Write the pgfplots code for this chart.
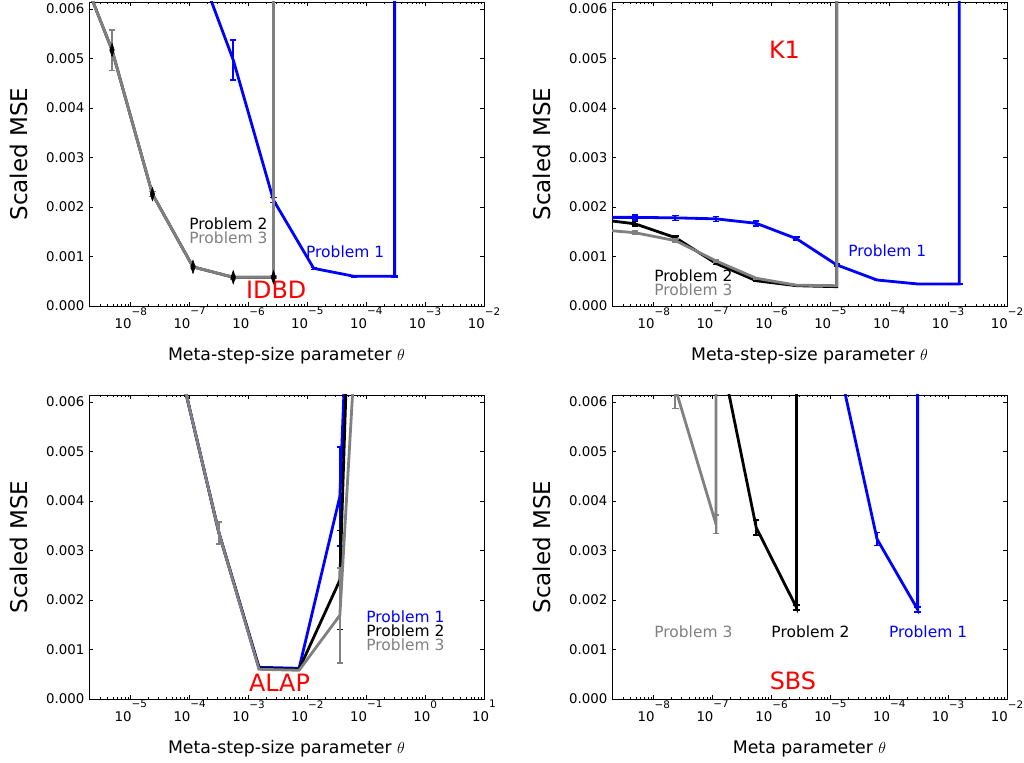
\documentclass[border=0pt]{standalone}
\usepackage{pgfplots}
\pgfplotsset{compat=1.18}
\usepackage{fontspec}
\setmainfont{DejaVu Sans}
\definecolor{mgray}{RGB}{128,128,128}
\definecolor{mblue}{RGB}{0,0,255}
\newcommand\mtl[1]{10\raisebox{10pt}{\fontsize{7.8}{8}\selectfont −#1}}
\newcommand\mtp[1]{10\raisebox{10pt}{\fontsize{7.8}{8}\selectfont #1}}
\pgfplotsset{
  panel/.style={
    scale only axis, width=296.25pt, height=228pt,
    ymin=0, ymax=0.00614,
    ytick={0,0.001,0.002,0.003,0.004,0.005,0.006},
    yticklabels={0.000,0.001,0.002,0.003,0.004,0.005,0.006},
    scaled y ticks=false,
    axis line style={line width=0.7pt},
    every tick/.style={black, line width=0.6pt},
    major tick length=3.2pt, minor tick length=1.8pt,
    tick align=inside,
    tick label style={font=\fontsize{10}{12}\selectfont},
    xticklabel style={yshift=2.5pt},
    every axis y label/.style={at={(axis description cs:-0.1785,0.5)}, rotate=90, anchor=center, font=\fontsize{17.25}{20}\selectfont},
    every axis x label/.style={at={(axis description cs:0.5,-0.163)}, anchor=center, font=\fontsize{13}{15}\selectfont},
    ylabel={Scaled MSE},
  },
  topx/.style={xmin=1.95e-9, xmax=1e-2,
    xtick={1e-8,1e-7,1e-6,1e-5,1e-4,1e-3,1e-2},
    xticklabels={\mtl{8},\mtl{7},\mtl{6},\mtl{5},\mtl{4},\mtl{3},\mtl{2}},
    minor xtick={2e-9,3e-9,4e-9,5e-9,6e-9,7e-9,8e-9,9e-9,
      2e-8,3e-8,4e-8,5e-8,6e-8,7e-8,8e-8,9e-8,
      2e-7,3e-7,4e-7,5e-7,6e-7,7e-7,8e-7,9e-7,
      2e-6,3e-6,4e-6,5e-6,6e-6,7e-6,8e-6,9e-6,
      2e-5,3e-5,4e-5,5e-5,6e-5,7e-5,8e-5,9e-5,
      2e-4,3e-4,4e-4,5e-4,6e-4,7e-4,8e-4,9e-4,
      2e-3,3e-3,4e-3,5e-3,6e-3,7e-3,8e-3,9e-3}},
  ln/.style={line width=2.1pt},
  eb/.style={error bars/.cd, y dir=both, y explicit, error bar style={line width=1.6pt}, error mark options={rotate=90, line width=1.2pt, mark size=2.4pt}},
}
\tikzset{plab/.style={font=\fontsize{11.6}{13}\selectfont, inner sep=0pt},
         mlab/.style={font=\fontsize{17.9}{20}\selectfont, inner sep=0pt, text=red}}
\begin{document}
\begin{tikzpicture}
\useasboundingbox (0,0) rectangle (768pt,572.25pt);
% ---------------- IDBD ----------------
\begin{semilogxaxis}[panel, topx, at={(66.75pt,342.75pt)}, anchor=south west,
  xlabel={Meta-step-size parameter $\theta$}]
\addplot[mblue, ln, eb] coordinates {
 (1.14e-7,7.15e-3) (5.5e-7,4.97e-3) +- (0,0.40e-3) (2.65e-6,2.14e-3) +- (0,0.05e-3)
 (1.28e-5,0.76e-3) +- (0,0.02e-3) (6.2e-5,0.60e-3) +- (0,0.01e-3) (3.03e-4,0.60e-3) +- (0,0.01e-3)
 (3.03e-4,0.05)};
\addplot[black, ln] coordinates {
 (9.8e-10,7.25e-3) (4.8e-9,5.17e-3) (2.33e-8,2.26e-3) (1.14e-7,0.79e-3) (5.5e-7,0.58e-3) (2.65e-6,0.58e-3) (2.65e-6,0.05)};
\addplot[mgray, ln, eb] coordinates {
 (9.8e-10,7.25e-3) (4.8e-9,5.17e-3) +- (0,0.41e-3) (2.33e-8,2.26e-3) +- (0,0.05e-3) (1.14e-7,0.79e-3) +- (0,0.03e-3)
 (5.5e-7,0.58e-3) +- (0,0.03e-3) (2.65e-6,0.58e-3) +- (0,0.02e-3) (2.65e-6,0.05)};
\addplot[only marks, black, mark=diamond*, mark size=5pt, mark options={xscale=0.45}] coordinates {
 (4.8e-9,5.17e-3) (2.33e-8,2.26e-3) (1.14e-7,0.79e-3) (5.5e-7,0.58e-3) (2.65e-6,0.58e-3)};
\node[plab, text=black] at (axis cs:4.55e-7,1.66e-3) {Problem 2};
\node[plab, text=mgray] at (axis cs:4.55e-7,1.37e-3) {Problem 3};
\node[plab, text=mblue] at (axis cs:4.38e-5,1.10e-3) {Problem 1};
\node[mlab] at (axis cs:2.95e-6,0.32e-3) {IDBD};
\end{semilogxaxis}
% ---------------- K1 ----------------
\begin{semilogxaxis}[panel, topx, at={(459pt,342.75pt)}, anchor=south west,
  xlabel={Meta-step-size parameter $\theta$}]
\addplot[mblue, ln, eb] coordinates {
 (9.8e-10,1.79e-3) (4.8e-9,1.79e-3) +- (0,0.05e-3) (2.33e-8,1.78e-3) +- (0,0.05e-3) (1.14e-7,1.76e-3) +- (0,0.05e-3)
 (5.5e-7,1.67e-3) +- (0,0.05e-3) (2.65e-6,1.36e-3) +- (0,0.03e-3) (1.28e-5,0.83e-3) +- (0,0.02e-3)
 (6.2e-5,0.525e-3) +- (0,0.01e-3) (3.03e-4,0.445e-3) +- (0,0.01e-3) (1.55e-3,0.445e-3) +- (0,0.01e-3) (1.55e-3,0.05)};
\addplot[black, ln, eb] coordinates {
 (9.8e-10,1.76e-3) (4.8e-9,1.66e-3) +- (0,0.05e-3) (2.33e-8,1.38e-3) +- (0,0.03e-3) (1.14e-7,0.86e-3) +- (0,0.02e-3)
 (5.5e-7,0.51e-3) +- (0,0.01e-3) (2.65e-6,0.41e-3) +- (0,0.01e-3) (1.28e-5,0.39e-3) (1.28e-5,0.05)};
\addplot[mgray, ln, eb] coordinates {
 (9.8e-10,1.55e-3) (4.8e-9,1.48e-3) +- (0,0.04e-3) (2.33e-8,1.32e-3) +- (0,0.03e-3) (1.14e-7,0.91e-3) +- (0,0.02e-3)
 (5.5e-7,0.56e-3) +- (0,0.01e-3) (2.65e-6,0.42e-3) +- (0,0.01e-3) (1.28e-5,0.41e-3) (1.28e-5,0.05)};
\node[plab, text=black] at (axis cs:4.7e-8,0.606e-3) {Problem 2};
\node[plab, text=mgray] at (axis cs:4.7e-8,0.32e-3) {Problem 3};
\node[plab, text=mblue] at (axis cs:9.25e-5,1.11e-3) {Problem 1};
\node[mlab] at (axis cs:1.66e-6,5.18e-3) {K1};
\end{semilogxaxis}
% ---------------- ALAP ----------------
\begin{semilogxaxis}[panel, at={(66.75pt,48pt)}, anchor=south west,
  xmin=1.95e-6, xmax=10,
  xtick={1e-5,1e-4,1e-3,1e-2,1e-1,1,10},
  xticklabels={\mtl{5},\mtl{4},\mtl{3},\mtl{2},\mtl{1},\mtp{0},\mtp{1}},
  minor xtick={2e-6,3e-6,4e-6,5e-6,6e-6,7e-6,8e-6,9e-6,
      2e-5,3e-5,4e-5,5e-5,6e-5,7e-5,8e-5,9e-5,
      2e-4,3e-4,4e-4,5e-4,6e-4,7e-4,8e-4,9e-4,
      2e-3,3e-3,4e-3,5e-3,6e-3,7e-3,8e-3,9e-3,
      2e-2,3e-2,4e-2,5e-2,6e-2,7e-2,8e-2,9e-2,
      0.2,0.3,0.4,0.5,0.6,0.7,0.8,0.9,
      2,3,4,5,6,7,8,9},
  xlabel={Meta-step-size parameter $\theta$}]
\addplot[mblue, ln, eb] coordinates {
 (6.5e-5,6.8e-3) (3.15e-4,3.35e-3) +- (0,0.22e-3) (1.51e-3,0.64e-3) (7.23e-3,0.62e-3)
 (0.0356,4.09e-3) +- (0,1.0e-3) (0.175,0.025)};
\addplot[black, ln, eb] coordinates {
 (6.5e-5,6.8e-3) (3.15e-4,3.35e-3) +- (0,0.22e-3) (1.51e-3,0.62e-3) (7.23e-3,0.60e-3)
 (0.0356,2.4e-3) +- (0,1.0e-3) (0.175,0.028)};
\addplot[mgray, ln, eb] coordinates {
 (6.5e-5,6.8e-3) (3.15e-4,3.35e-3) +- (0,0.22e-3) (1.51e-3,0.60e-3) (7.23e-3,0.58e-3)
 (0.0356,1.69e-3) +- (0,0.96e-3) (0.175,0.016)};
\node[plab, text=mblue] at (axis cs:0.462,1.66e-3) {Problem 1};
\node[plab, text=black] at (axis cs:0.462,1.38e-3) {Problem 2};
\node[plab, text=mgray] at (axis cs:0.462,1.10e-3) {Problem 3};
\node[mlab] at (axis cs:3.36e-3,0.32e-3) {ALAP};
\end{semilogxaxis}
% ---------------- SBS ----------------
\begin{semilogxaxis}[panel, topx, at={(459pt,48pt)}, anchor=south west,
  xlabel={Meta parameter $\theta$}]
\addplot[mgray, ln, eb] coordinates {
 (4.8e-9,0.02) (2.33e-8,6.27e-3) +- (0,0.4e-3) (1.14e-7,3.53e-3) +- (0,0.19e-3) (1.14e-7,0.05)};
\addplot[black, ln, eb] coordinates {
 (1.14e-7,7.44e-3) (5.5e-7,3.46e-3) +- (0,0.15e-3) (2.65e-6,1.85e-3) +- (0,0.05e-3) (2.65e-6,0.05)};
\addplot[mblue, ln, eb] coordinates {
 (1.28e-5,6.94e-3) (6.2e-5,3.23e-3) +- (0,0.13e-3) (3.03e-4,1.81e-3) +- (0,0.05e-3) (3.03e-4,0.05)};
\node[plab, text=mgray] at (axis cs:4.7e-8,1.36e-3) {Problem 3};
\node[plab, text=black] at (axis cs:4.59e-6,1.36e-3) {Problem 2};
\node[plab, text=mblue] at (axis cs:4.57e-4,1.36e-3) {Problem 1};
\node[mlab] at (axis cs:2.31e-6,0.36e-3) {SBS};
\end{semilogxaxis}
\end{tikzpicture}
\end{document}
